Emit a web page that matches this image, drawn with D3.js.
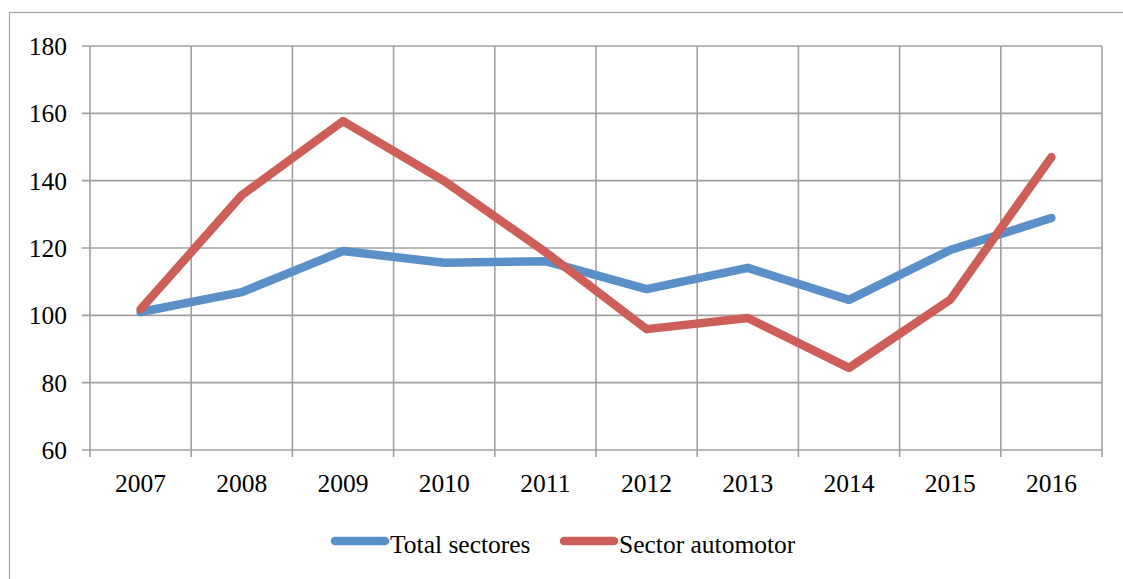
<!DOCTYPE html>
<html>
<head>
<meta charset="utf-8">
<script src="https://cdn.jsdelivr.net/npm/d3@7"></script>
<style>
  html, body { margin: 0; padding: 0; background: #fff; }
  svg { display: block; }
  svg text { font-family: "Liberation Serif", "Times New Roman", serif; fill: #000; }
</style>
</head>
<body>
<div id="app"></div>
<script>
const years = ["2007", "2008", "2009", "2010", "2011", "2012", "2013", "2014", "2015", "2016"];
const totalSectores = [101.0, 106.9, 119.1, 115.6, 116.1, 107.8, 114.1, 104.6, 119.4, 128.9];
const sectorAutomotor = [101.8, 135.7, 157.7, 139.9, 118.8, 95.9, 99.2, 84.4, 104.6, 147.0];
const yTicks = [60, 80, 100, 120, 140, 160, 180];
const seriesNames = ["Total sectores", "Sector automotor"];
const seriesColors = ["#5b8fc8", "#cd5f58"];

const width = 1123;
const height = 579;
const plot = { left: 90, top: 46, right: 1102, bottom: 450 };
const fontSize = "25.5px";

const svg = d3.select("#app").append("svg").attr("width", width).attr("height", height);

// chart frame
svg.append("rect")
  .attr("x", 9.5).attr("y", 12.5)
  .attr("width", width + 10).attr("height", height + 10)
  .attr("fill", "none").attr("stroke", "#a6a6a6").attr("stroke-width", 1.2);

const x = d3.scaleBand().domain(years).range([plot.left, plot.right]);
const y = d3.scaleLinear().domain([60, 180]).range([plot.bottom, plot.top]);

const grid = "#a0a0a0";

// horizontal gridlines
svg.append("g")
  .selectAll("line")
  .data(yTicks)
  .join("line")
  .attr("x1", plot.left - 8).attr("x2", plot.right)
  .attr("y1", (d) => y(d)).attr("y2", (d) => y(d))
  .attr("stroke", grid).attr("stroke-width", 1.6);

// vertical gridlines at category boundaries
const bounds = years.map((d) => x(d)).concat([x(years[years.length - 1]) + x.bandwidth()]);
svg.append("g")
  .selectAll("line")
  .data(bounds)
  .join("line")
  .attr("x1", (d) => d).attr("x2", (d) => d)
  .attr("y1", plot.top).attr("y2", plot.bottom + 7)
  .attr("stroke", grid).attr("stroke-width", 1.6);

// y labels
svg.append("g")
  .selectAll("text")
  .data(yTicks)
  .join("text")
  .attr("x", 67)
  .attr("y", (d) => y(d) + 9)
  .attr("text-anchor", "end")
  .style("font-size", fontSize)
  .text((d) => d);

// x labels
svg.append("g")
  .selectAll("text")
  .data(years)
  .join("text")
  .attr("x", (d) => x(d) + x.bandwidth() / 2)
  .attr("y", 492)
  .attr("text-anchor", "middle")
  .style("font-size", fontSize)
  .text((d) => d);

const line = d3.line()
  .x((d, i) => x(years[i]) + x.bandwidth() / 2)
  .y((d) => y(d));

[totalSectores, sectorAutomotor].forEach((vals, i) => {
  svg.append("path")
    .datum(vals)
    .attr("d", line)
    .attr("fill", "none")
    .attr("stroke", seriesColors[i])
    .attr("stroke-width", 8.5)
    .attr("stroke-linecap", "round")
    .attr("stroke-linejoin", "round");
});

// legend
const legendX = [335, 564];
const legend = svg.append("g");
seriesNames.forEach((name, i) => {
  legend.append("line")
    .attr("x1", legendX[i]).attr("x2", legendX[i] + 50)
    .attr("y1", 541).attr("y2", 541)
    .attr("stroke", seriesColors[i])
    .attr("stroke-width", 8.5)
    .attr("stroke-linecap", "round");
  legend.append("text")
    .attr("x", legendX[i] + 55)
    .attr("y", 553)
    .style("font-size", fontSize)
    .text(name);
});
</script>
</body>
</html>
